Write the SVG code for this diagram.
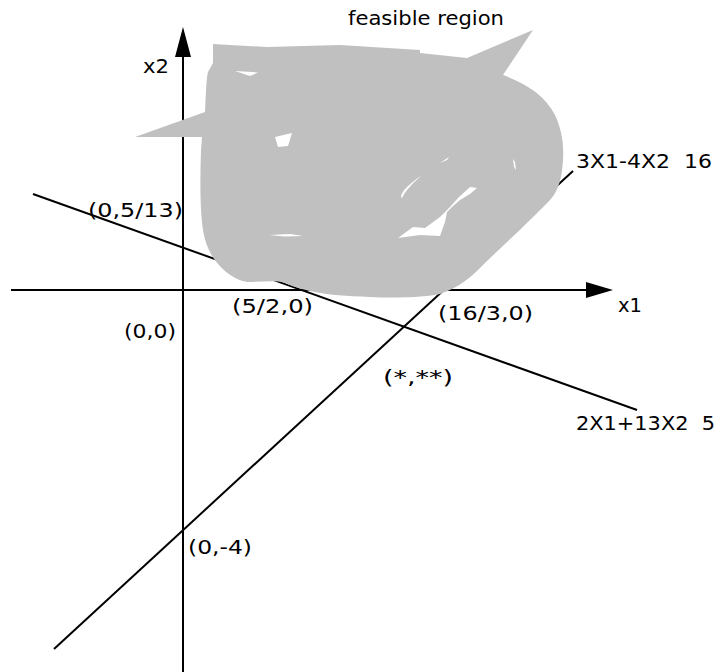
<svg xmlns="http://www.w3.org/2000/svg" width="718" height="672" viewBox="0 0 718 672">
<defs>
<style>
.ln{stroke:#000;stroke-width:2;fill:none}
.ah{fill:#000}
.blob{fill:#c0c0c0}
.hole{fill:#fff}
text{font-family:"DejaVu Sans","Liberation Sans",sans-serif;font-size:19px;fill:#000}
</style>
</defs>
<rect width="718" height="672" fill="#fff"/>
<g id="axes">
<line class="ln" x1="183" y1="50" x2="183" y2="672"/>
<polygon class="ah" points="183,27 175,57 191,57"/>
<line class="ln" x1="11" y1="290" x2="592" y2="290"/>
<polygon class="ah" points="613,290 586,282 586,298"/>
</g>
<g id="connectors">
<line class="ln" x1="33" y1="194" x2="637" y2="410"/>
<line class="ln" x1="54" y1="649" x2="573" y2="171"/>
</g>
<g id="feasible-region">
<path class="blob" d="M213,44 L267,47 L340,45 L420,50 L420,53 L467,58 L533,30 L503,75 C525,83 545,95 555,115 C562,130 564,145 563,160 C562,175 560,185 554,195 C548,203 540,210 530,220 C515,235 498,250 480,268 C470,278 458,288 440,294 C420,298 390,298 370,297 C345,296 330,295 315,292 C300,289 292,286 285,283 C275,280 260,282 247,282 C235,280 225,272 218,264 C210,255 205,243 203,230 C200,210 200,180 201,150 L202,137 L135,137 L205,112 C206,95 206,80 208,72 L213,63 Z"/>
<path class="hole" d="M235,71 L258,72.5 L250,76 Z"/>
<path class="hole" d="M275,137 L292,133 L288,146 L278,147 Z"/>
<path class="hole" d="M269,235 L290,234 L303,236 L285,236.5 Z"/>
<path class="hole" d="M401,197 C402,191 407,186 422,175 C412,184 406,190 402,198 Z"/>
<path class="hole" d="M398,238 L413,227 L425,228 L440,217 L450,207 L458,198 L470,187 L477,188 L470,194 L460,200 L452,207 L447,212 L445,222 L440,236 L420,235 Z"/>
<path class="hole" d="M440,163 L449,157 L447,160 Z"/>
<path class="hole" d="M513,159 L515,162 L516,170 L514,167 Z"/>
</g>
<g id="labels">
<text x="348" y="25" textLength="156" lengthAdjust="spacingAndGlyphs">feasible region</text>
<text x="143" y="73" textLength="26" lengthAdjust="spacingAndGlyphs">x2</text>
<text x="88" y="217" textLength="95" lengthAdjust="spacingAndGlyphs">(0,5/13)</text>
<text x="232" y="313" textLength="81" lengthAdjust="spacingAndGlyphs">(5/2,0)</text>
<text x="124" y="338" textLength="52" lengthAdjust="spacingAndGlyphs">(0,0)</text>
<text x="438" y="320" textLength="95" lengthAdjust="spacingAndGlyphs">(16/3,0)</text>
<text x="618" y="312" textLength="24" lengthAdjust="spacingAndGlyphs">x1</text>
<text x="383" y="384" textLength="70" lengthAdjust="spacingAndGlyphs">(*,**)</text>
<text x="576" y="168" textLength="136" lengthAdjust="spacingAndGlyphs" xml:space="preserve">3X1-4X2  16</text>
<text x="576" y="430" textLength="139" lengthAdjust="spacingAndGlyphs" xml:space="preserve">2X1+13X2  5</text>
<text x="188" y="554" textLength="64" lengthAdjust="spacingAndGlyphs">(0,-4)</text>
</g>
</svg>
